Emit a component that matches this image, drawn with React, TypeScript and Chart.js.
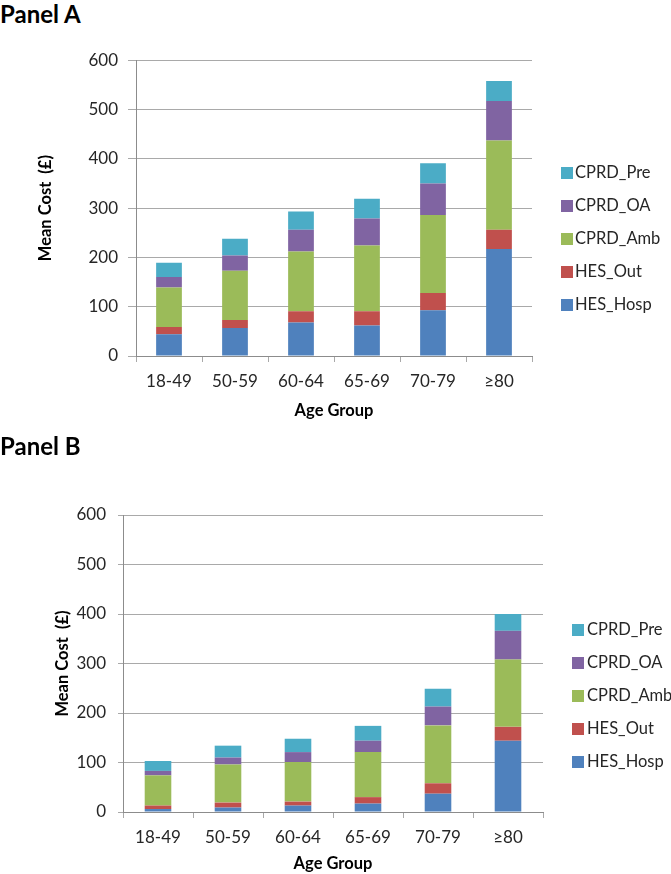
import React, { useEffect, useRef } from 'react';
import { Chart, registerables } from 'chart.js';

Chart.register(...registerables);

// ---------- data ----------
const categories = ['18-49', '50-59', '60-64', '65-69', '70-79', '≥80'];
const seriesNames = ['HES_Hosp', 'HES_Out', 'CPRD_Amb', 'CPRD_OA', 'CPRD_Pre'];
const seriesColors = ['#4F81BD', '#C0504D', '#9BBB59', '#8064A2', '#4BACC6'];

const panelA_HES_Hosp = [44, 57, 68, 62, 93, 217];
const panelA_HES_Out = [15, 16, 23, 29, 35, 39];
const panelA_CPRD_Amb = [80, 100, 121, 133, 158, 181];
const panelA_CPRD_OA = [21, 31, 44, 55, 64, 80];
const panelA_CPRD_Pre = [29, 34, 37, 40, 41, 41];

const panelB_HES_Hosp = [6, 9, 13, 17, 37, 144];
const panelB_HES_Out = [7, 10, 8, 13, 21, 28];
const panelB_CPRD_Amb = [61, 77, 80, 91, 117, 136];
const panelB_CPRD_OA = [9, 14, 20, 23, 38, 58];
const panelB_CPRD_Pre = [20, 24, 27, 30, 36, 34];

const yMin = 0;
const yMax = 600;
const yStep = 100;
const xTitle = 'Age Group';
const yTitle = 'Mean Cost  (£)';

// ---------- styles ----------
const FONT = 'Lato, "Open Sans", "DejaVu Sans", sans-serif';
const GRID = '#a9a9a9';
const AXIS = '#8c8c8c';
const TXT = '#262626';

type PanelCfg = {
  title: string;
  titleTop: number;
  canvasTop: number;
  canvasHeight: number;
  padding: { left: number; top: number; right: number; bottom: number };
  yWidth: number;
  xHeight: number;
  yTickLen: number;
  yTickPad: number;
  xTickLen: number;
  xTickPad: number;
  barPct: number;
  series: number[][];
  legendSquareX: number;
  legendTextX: number;
  legendY: number[]; // top-to-bottom centers (CPRD_Pre first)
};

function Panel({ cfg }: { cfg: PanelCfg }) {
  const ref = useRef<HTMLCanvasElement | null>(null);
  useEffect(() => {
    if (!ref.current) return;
    const chart = new Chart(ref.current, {
      type: 'bar',
      data: {
        labels: categories,
        datasets: seriesNames.map((name, i) => ({
          label: name,
          data: cfg.series[i],
          backgroundColor: seriesColors[i],
          borderWidth: 0,
          barPercentage: cfg.barPct,
          categoryPercentage: 1,
        })),
      },
      options: {
        responsive: false,
        animation: false,
        devicePixelRatio: 1,
        layout: { padding: cfg.padding },
        plugins: { legend: { display: false }, tooltip: { enabled: false }, title: { display: false } },
        scales: {
          x: {
            stacked: true,
            grid: {
              display: true,
              drawOnChartArea: false,
              drawTicks: true,
              tickLength: cfg.xTickLen,
              offset: true,
              color: GRID,
            },
            border: { display: true, color: AXIS },
            ticks: { font: { family: FONT, size: 17 }, color: TXT, padding: cfg.xTickPad, maxRotation: 0 },
            title: {
              display: true,
              text: xTitle,
              font: { family: FONT, size: 16.5, weight: 'bold' },
              color: '#000',
              padding: 0,
            },
            afterFit: (s: any) => {
              s.height = cfg.xHeight;
            },
          },
          y: {
            stacked: true,
            min: yMin,
            max: yMax,
            ticks: { stepSize: yStep, font: { family: FONT, size: 17 }, color: TXT, padding: cfg.yTickPad },
            grid: { color: GRID, tickLength: cfg.yTickLen, drawTicks: true },
            border: { display: true, color: AXIS },
            title: {
              display: true,
              text: yTitle,
              font: { family: FONT, size: 16.5, weight: 'bold' },
              color: '#000',
              padding: 0,
            },
            afterFit: (s: any) => {
              s.width = cfg.yWidth;
            },
          },
        },
      } as any,
    });
    return () => chart.destroy();
  }, [cfg]);

  const legendItems = seriesNames.map((n, i) => ({ name: n, color: seriesColors[i] })).reverse();

  return (
    <>
      <div
        style={{
          position: 'absolute',
          left: 0,
          top: cfg.titleTop,
          font: `bold 24px ${FONT}`,
          lineHeight: '25px',
          color: '#000',
          whiteSpace: 'nowrap',
        }}
      >
        {cfg.title}
      </div>
      <canvas
        ref={ref}
        width={671}
        height={cfg.canvasHeight}
        style={{ position: 'absolute', left: 0, top: cfg.canvasTop, width: 671, height: cfg.canvasHeight }}
      />
      {legendItems.map((it, k) => (
        <div key={it.name}>
          <div
            style={{
              position: 'absolute',
              left: cfg.legendSquareX,
              top: cfg.legendY[k] - 6,
              width: 12,
              height: 12,
              background: it.color,
            }}
          />
          <div
            style={{
              position: 'absolute',
              left: cfg.legendTextX,
              top: cfg.legendY[k] - 11,
              height: 22,
              lineHeight: '22px',
              font: `16.5px ${FONT}`,
              color: TXT,
              whiteSpace: 'nowrap',
            }}
          >
            {it.name}
          </div>
        </div>
      ))}
    </>
  );
}

const panelACfg: PanelCfg = {
  title: 'Panel A',
  titleTop: 1,
  canvasTop: 40,
  canvasHeight: 400,
  padding: { left: 36, top: 18, right: 139, bottom: 19 },
  yWidth: 100,
  xHeight: 65,
  yTickLen: 8,
  yTickPad: 10,
  xTickLen: 6,
  xTickPad: 9,
  barPct: 0.39,
  series: [panelA_HES_Hosp, panelA_HES_Out, panelA_CPRD_Amb, panelA_CPRD_OA, panelA_CPRD_Pre],
  legendSquareX: 561,
  legendTextX: 575,
  legendY: [173, 206, 239, 272, 305],
};

const panelBCfg: PanelCfg = {
  title: 'Panel B',
  titleTop: 433,
  canvasTop: 480,
  canvasHeight: 394,
  padding: { left: 53, top: 35, right: 128, bottom: 0 },
  yWidth: 70,
  xHeight: 62,
  yTickLen: 5,
  yTickPad: 12,
  xTickLen: 6,
  xTickPad: 9,
  barPct: 0.38,
  series: [panelB_HES_Hosp, panelB_HES_Out, panelB_CPRD_Amb, panelB_CPRD_OA, panelB_CPRD_Pre],
  legendSquareX: 572,
  legendTextX: 587,
  legendY: [630, 663, 696, 729, 762],
};

export default function App() {
  return (
    <div
      style={{
        position: 'absolute',
        left: 0,
        top: 0,
        width: 671,
        height: 874,
        background: '#fff',
        overflow: 'hidden',
      }}
    >
      <Panel cfg={panelACfg} />
      <Panel cfg={panelBCfg} />
    </div>
  );
}
